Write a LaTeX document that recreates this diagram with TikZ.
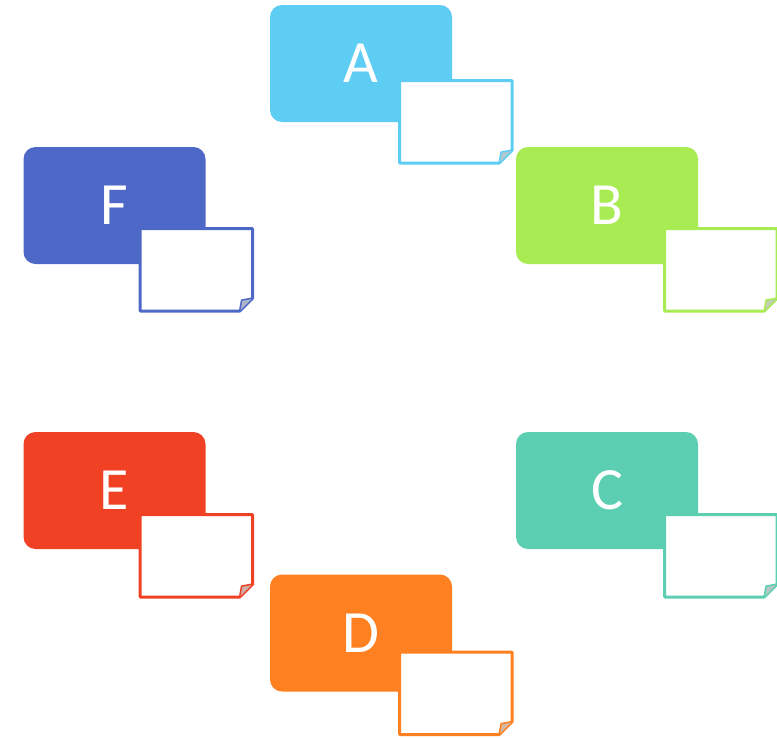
\documentclass[tikz,border=0pt]{standalone}
\usepackage{fontspec}
\setsansfont{Carlito}
\usepackage{tikz}
\usetikzlibrary{positioning}
\definecolor{skyA}{HTML}{5ECDF4}
\definecolor{limeB}{HTML}{A8EB52}
\definecolor{tealC}{HTML}{5CCFB2}
\definecolor{orangeD}{HTML}{FE8020}
\definecolor{redE}{HTML}{F04125}
\definecolor{indigoF}{HTML}{4E68C8}

% folded sheet drawn over an (undrawn) node
\newcommand{\drawsheet}[2]{%
    \draw [#2, line width=3pt, line join=round, fill=white]
        (#1.north west) -- (#1.north east) -- ([yshift=13pt]#1.south east)
        -- ([xshift=-13pt]#1.south east) -- (#1.south west) -- cycle;
    \draw [#2, line width=1.5pt, line join=round, fill=#2!35!gray!55]
        ([yshift=13pt]#1.south east) -- ([shift={(-11pt,11pt)}]#1.south east)
        -- ([xshift=-13pt]#1.south east);
}

\begin{document}
\begin{tikzpicture}[x=1pt, y=-1pt]
    % Default looks
    \tikzstyle{stage}=[rectangle, rounded corners=12pt, minimum width=182pt,
        minimum height=117pt, inner sep=0pt, text=white,
        font=\sffamily\fontsize{60}{60}\selectfont];
    \tikzstyle{sheet}=[rectangle, minimum width=112pt, minimum height=82pt,
        inner sep=0pt];
    \useasboundingbox (0,0) rectangle (777,737);

    % Coloured stages
    \node [stage, fill=skyA] (a) at (361,63.5) {A};
    \node [stage, fill=limeB] (b) at (607,205.5) {B};
    \node [stage, fill=tealC] (c) at (607,490.5) {C};
    \node [stage, fill=orangeD] (d) at (361,633) {D};
    \node [stage, fill=redE] (e) at (114.5,490.5) {E};
    \node [stage, fill=indigoF] (f) at (114.5,205.5) {F};

    % Sheets hanging off each stage
    \node [sheet] (sa) [below right=-41.5pt and -52.5pt of a] {};
    \node [sheet] (sb) [below right=-35.5pt and -33.5pt of b] {};
    \node [sheet] (sc) [below right=-34.5pt and -33.5pt of c] {};
    \node [sheet] (sd) [below right=-39.5pt and -52.5pt of d] {};
    \node [sheet] (se) [below right=-34.5pt and -65.5pt of e] {};
    \node [sheet] (sf) [below right=-35.5pt and -65.5pt of f] {};

    \drawsheet{sa}{skyA}
    \drawsheet{sb}{limeB}
    \drawsheet{sc}{tealC}
    \drawsheet{sd}{orangeD}
    \drawsheet{se}{redE}
    \drawsheet{sf}{indigoF}
\end{tikzpicture}
\end{document}
